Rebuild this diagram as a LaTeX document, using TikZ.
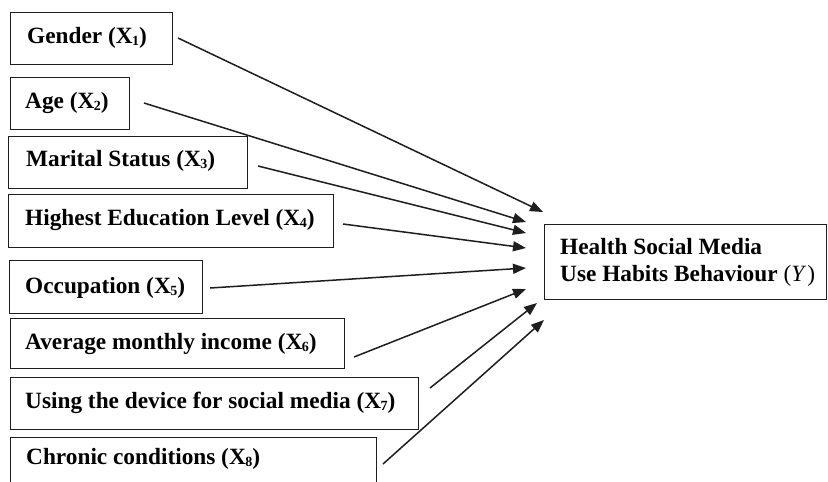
\documentclass[tikz,border=0pt]{standalone}
\usepackage{fontspec}
\setmainfont{Liberation Serif}
\usetikzlibrary{arrows.meta}
\definecolor{ink}{HTML}{1E1E1E}
\tikzset{
  box/.style={draw=ink, line width=1.3pt, anchor=north west, inner sep=0pt},
  lbl/.style={anchor=base west, inner sep=0pt, font=\fontsize{23.3}{27}\selectfont\bfseries, text=black},
  link/.style={draw=ink, line width=1.5pt, -{Triangle[length=13pt,width=10pt]}},
}
\newcommand{\Xs}[1]{(X\kern-0.5pt\raisebox{-2pt}{\fontsize{14}{14}\selectfont #1})}
\begin{document}
\begin{tikzpicture}[x=1pt,y=-1pt]
\clip (0,0) rectangle (828,482);
\fill[white] (0,0) rectangle (828,482);
% boxes
\node[box, minimum width=162, minimum height=52] (b1) at (10,12) {};
\node[box, minimum width=119, minimum height=52] (b2) at (10,77) {};
\node[box, minimum width=239, minimum height=52] (b3) at (8,136) {};
\node[box, minimum width=325, minimum height=53] (b4) at (8,194) {};
\node[box, minimum width=193, minimum height=53] (b5) at (9,260) {};
\node[box, minimum width=334, minimum height=50] (b6) at (10,318) {};
\node[box, minimum width=408, minimum height=52] (b7) at (10,377) {};
\node[box, minimum width=366, minimum height=60] (b8) at (10,437) {};
\node[box, minimum width=282, minimum height=75] (y) at (544,224) {};
% labels
\node[lbl] (t1) at (27,43) {Gender \Xs{1}};
\node[lbl] (t2) at (25,108) {Age \Xs{2}};
\node[lbl] (t3) at (26,166) {Marital Status \Xs{3}};
\node[lbl] (t4) at (25,225) {Highest Education Level \Xs{4}};
\node[lbl] (t5) at (25,293) {Occupation \Xs{5}};
\node[lbl] (t6) at (25,349) {Average monthly income \Xs{6}};
\node[lbl] (t7) at (25,408) {Using the device for social media \Xs{7}};
\node[lbl] (t8) at (26,464) {Chronic conditions \Xs{8}};
\node[lbl] (ty1) at (560,254) {Health Social Media};
\node[lbl] (ty2) at (560,281) {Use Habits Behaviour {\mdseries(\textit{Y}\kern1pt)}};
% connector ends
\coordinate (s1) at (178,38);  \coordinate (e1) at (543,212);
\coordinate (s2) at (144,103); \coordinate (e2) at (526,222);
\coordinate (s3) at (258,166); \coordinate (e3) at (526,233);
\coordinate (s4) at (343,224); \coordinate (e4) at (526,248);
\coordinate (s5) at (210,288); \coordinate (e5) at (526,268);
\coordinate (s6) at (354,357); \coordinate (e6) at (526,289);
\coordinate (s7) at (430,388); \coordinate (e7) at (537,303);
\coordinate (s8) at (383,464); \coordinate (e8) at (544,320);
\foreach \i in {1,...,8} { \draw[link] (s\i) -- (e\i); }
\end{tikzpicture}
\end{document}
